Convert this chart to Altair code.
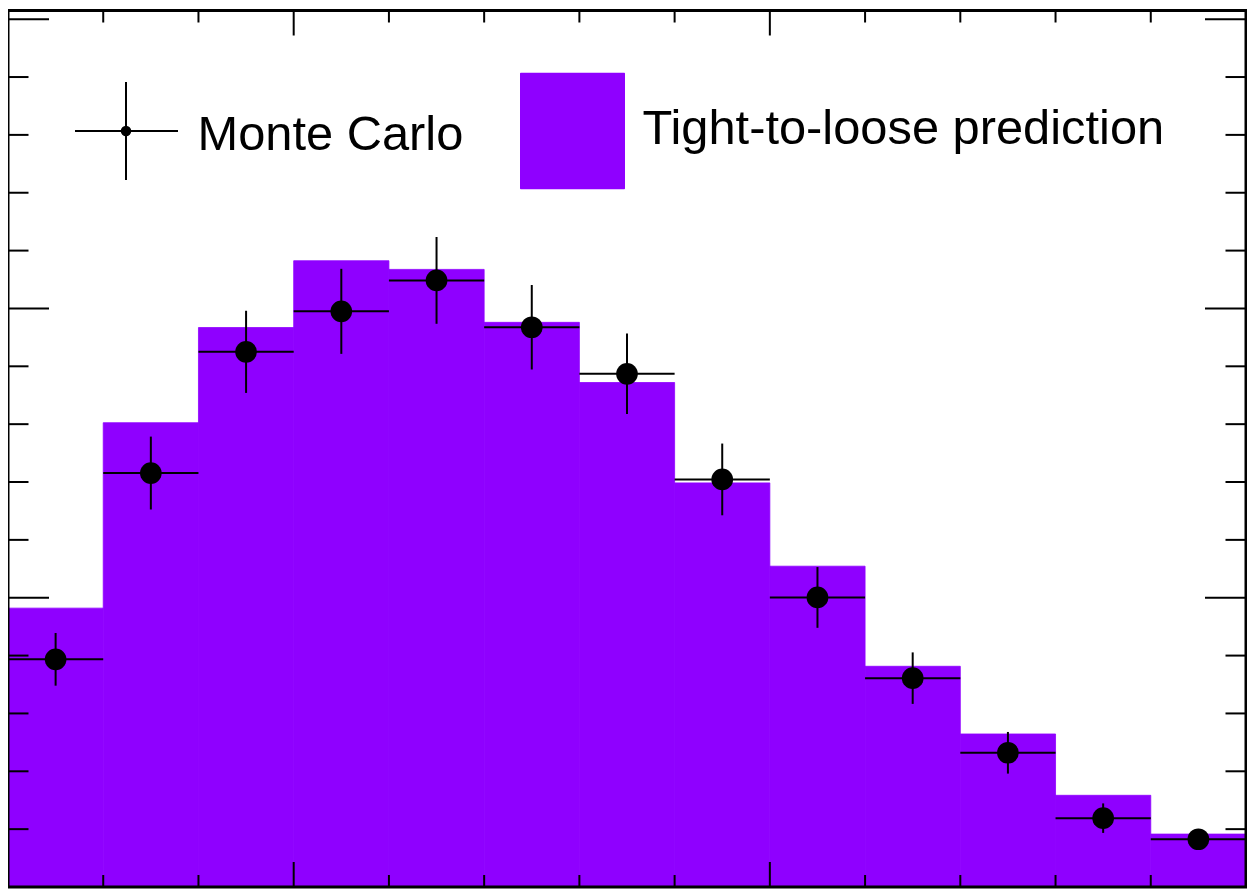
import altair as alt
import pandas as pd

# ---- data ----
bin_lo = [2, 3, 4, 5, 6, 7, 8, 9, 10, 11, 12, 13, 14]
bin_hi = [3, 4, 5, 6, 7, 8, 9, 10, 11, 12, 13, 14, 15]
tl_pred = [96.4, 160.5, 193.4, 216.5, 213.5, 195.2, 174.4, 139.7, 110.9, 76.3, 52.9, 31.7, 18.3]
mc_val = [78.7, 143.1, 185.0, 199.0, 209.7, 193.5, 177.4, 140.9, 100.1, 72.2, 46.4, 23.8, 16.5]
mc_err = [9.1, 12.6, 14.2, 14.7, 15.0, 14.6, 13.9, 12.4, 10.5, 8.9, 7.2, 5.1, 3.0]

x_major = [5, 10]
x_minor = [3, 4, 6, 7, 8, 9, 11, 12, 13, 14]
y_major = [100, 200, 300]
y_minor = [20, 40, 60, 80, 120, 140, 160, 180, 220, 240, 260, 280]

X_DOMAIN = [2, 15]
Y_DOMAIN = [0, 303]

legend_labels = ["Monte Carlo", "Tight-to-loose prediction"]

# ---- style ----
PURPLE = "#8f00ff"
FONT = "Liberation Sans"
FS = 48.8
W, H = 1238, 876.5

xs = alt.Scale(domain=X_DOMAIN, nice=False, zero=False)
ys = alt.Scale(domain=Y_DOMAIN, nice=False, zero=False)

df = pd.DataFrame({
    "lo": bin_lo,
    "hi": bin_hi,
    "pred": tl_pred,
    "mc": mc_val,
    "err": mc_err,
})
df["center"] = (df["lo"] + df["hi"]) / 2
df["mc_lo"] = df["mc"] - df["err"]
df["mc_hi"] = df["mc"] + df["err"]
df["zero"] = 0

base = alt.Chart(df)

hist = base.mark_rect(color=PURPLE, stroke=PURPLE, strokeWidth=0.8).encode(
    x=alt.X("lo:Q", scale=xs, axis=None),
    x2="hi:Q",
    y=alt.Y("zero:Q", scale=ys, axis=None),
    y2="pred:Q",
)

herr = base.mark_rule(color="black", strokeWidth=2).encode(
    x=alt.X("lo:Q", scale=xs, axis=None),
    x2="hi:Q",
    y=alt.Y("mc:Q", scale=ys, axis=None),
)

verr = base.mark_rule(color="black", strokeWidth=2).encode(
    x=alt.X("center:Q", scale=xs, axis=None),
    y=alt.Y("mc_lo:Q", scale=ys, axis=None),
    y2="mc_hi:Q",
)

pts = base.mark_circle(color="black", opacity=1, size=470).encode(
    x=alt.X("center:Q", scale=xs, axis=None),
    y=alt.Y("mc:Q", scale=ys, axis=None),
)


def xticks(vals, length, top):
    d = pd.DataFrame({"v": vals})
    if top:
        yy, yy2 = alt.value(0), alt.value(length)
    else:
        yy, yy2 = alt.value(H - length), alt.value(H)
    return alt.Chart(d).mark_rule(color="black", strokeWidth=2).encode(
        x=alt.X("v:Q", scale=xs, axis=None), y=yy, y2=yy2
    )


def yticks(vals, length, left):
    d = pd.DataFrame({"v": vals})
    if left:
        xx, xx2 = alt.value(0), alt.value(length)
    else:
        xx, xx2 = alt.value(W - length), alt.value(W)
    return alt.Chart(d).mark_rule(color="black", strokeWidth=2).encode(
        y=alt.Y("v:Q", scale=ys, axis=None), x=xx, x2=xx2
    )


ticks = [
    xticks(x_minor, 12, True), xticks(x_minor, 12, False),
    xticks(x_major, 25, True), xticks(x_major, 25, False),
    yticks(y_minor, 20.5, True), yticks(y_minor, 20.5, False),
    yticks(y_major, 41, True), yticks(y_major, 41, False),
]

frame_df = pd.DataFrame({"x0": [X_DOMAIN[0]], "x1": [X_DOMAIN[1]],
                         "y0": [Y_DOMAIN[0]], "y1": [Y_DOMAIN[1]]})
frame = alt.Chart(frame_df).mark_rect(fillOpacity=0, stroke="black", strokeWidth=3).encode(
    x=alt.X("x0:Q", scale=xs, axis=None), x2="x1:Q",
    y=alt.Y("y0:Q", scale=ys, axis=None), y2="y1:Q",
)

# ---- legend (drawn by hand, ROOT style) ----
one = alt.Chart(pd.DataFrame({"a": [0]}))
leg_box = one.mark_rect(color=PURPLE, cornerRadius=1).encode(
    x=alt.value(512), x2=alt.value(617), y=alt.value(62.2), y2=alt.value(178.8)
)
leg_h = one.mark_rule(color="black", strokeWidth=2).encode(
    x=alt.value(67), x2=alt.value(170), y=alt.value(120.5)
)
leg_v = one.mark_rule(color="black", strokeWidth=2).encode(
    x=alt.value(118), y=alt.value(71.5), y2=alt.value(169.5)
)
leg_pt = one.mark_circle(color="black", opacity=1, size=110).encode(
    x=alt.value(118), y=alt.value(120.5)
)
leg_t1 = one.mark_text(font=FONT, fontSize=FS, align="left", baseline="alphabetic",
                       color="black", text=legend_labels[0]).encode(
    x=alt.value(189.5), y=alt.value(139)
)
leg_t2 = one.mark_text(font=FONT, fontSize=FS, align="left", baseline="alphabetic",
                       color="black", text=legend_labels[1]).encode(
    x=alt.value(634.5), y=alt.value(133.5)
)

chart = alt.layer(
    hist, herr, verr, pts, *ticks, frame,
    leg_box, leg_h, leg_v, leg_pt, leg_t1, leg_t2,
).properties(
    width=W,
    height=H,
    padding={"left": 0, "top": 2.5, "right": 1, "bottom": 2},
    autosize=alt.AutoSizeParams(type="none"),
    background="white",
).configure_view(strokeWidth=0)

chart.save("out.html", embed_options={"renderer": "svg", "actions": False})
